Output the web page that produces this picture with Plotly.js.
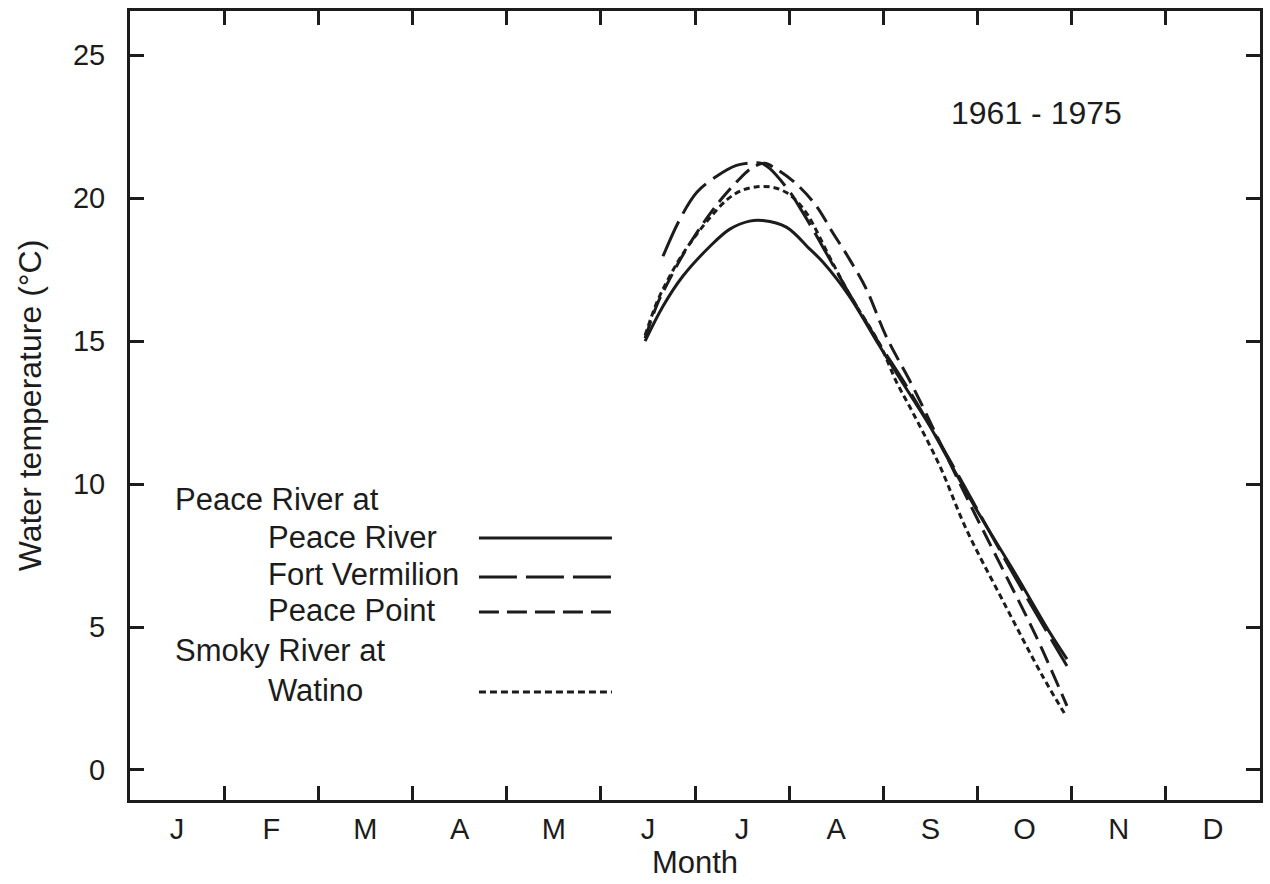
<!DOCTYPE html>
<html>
<head>
<meta charset="utf-8">
<script src="https://cdn.plot.ly/plotly-3.0.1.min.js"></script>
<style>
  html, body { margin: 0; padding: 0; background: #ffffff; }
  #chart { width: 1270px; height: 884px; }
</style>
</head>
<body>
<div id="chart"></div>
<script>
// ---- Data (x = months from 1 January, y = water temperature in °C) ----
const monthLabels = ["J", "F", "M", "A", "M", "J", "J", "A", "S", "O", "N", "D"];
const monthCentres = [0.5, 1.5, 2.5, 3.5, 4.5, 5.5, 6.5, 7.5, 8.5, 9.5, 10.5, 11.5];
const monthBoundaries = [1, 2, 3, 4, 5, 6, 7, 8, 9, 10, 11];
const tempTicks = [0, 5, 10, 15, 20, 25];

const seriesNames = ["Peace River", "Fort Vermilion", "Peace Point", "Watino"];

const peaceRiverX = [5.47, 5.66, 5.87, 6.16, 6.37, 6.58, 6.72, 6.97, 7.22, 7.36, 7.64, 7.96, 8.28, 8.49, 8.73, 8.99, 9.41, 9.76, 9.95];
const peaceRiverY = [15.00, 16.22, 17.27, 18.32, 18.92, 19.20, 19.22, 18.99, 18.22, 17.76, 16.57, 14.83, 13.15, 12.05, 10.62, 9.10, 6.82, 4.85, 3.88];

const fortVermilionX = [5.66, 5.84, 6.02, 6.23, 6.44, 6.61, 6.71, 6.79, 7.01, 7.11, 7.25, 7.43, 7.61, 7.82, 7.96, 8.28, 8.70, 9.41, 9.95];
const fortVermilionY = [17.97, 19.27, 20.21, 20.77, 21.15, 21.24, 21.22, 21.05, 20.21, 19.69, 18.92, 17.87, 16.82, 15.66, 14.90, 13.25, 10.87, 6.68, 3.64];

const peacePointX = [5.47, 5.60, 5.72, 5.86, 6.02, 6.18, 6.30, 6.45, 6.60, 6.74, 6.85, 7.08, 7.29, 7.46, 7.64, 7.82, 8.03, 8.31, 8.60, 8.92, 9.23, 9.62, 9.95];
const peacePointY = [15.10, 16.30, 17.10, 17.95, 18.80, 19.55, 20.05, 20.60, 21.05, 21.22, 21.05, 20.49, 19.72, 18.81, 17.87, 16.82, 15.17, 13.43, 11.47, 9.30, 7.27, 4.69, 2.24];

const watinoX = [5.47, 5.60, 5.72, 5.86, 6.02, 6.18, 6.34, 6.48, 6.66, 6.83, 6.97, 7.08, 7.20, 7.43, 7.64, 7.96, 8.14, 8.31, 8.60, 8.88, 9.26, 9.69, 9.94];
const watinoY = [15.20, 16.40, 17.20, 18.00, 18.75, 19.40, 19.95, 20.25, 20.40, 20.38, 20.20, 19.90, 19.40, 17.94, 16.64, 14.90, 13.57, 12.52, 10.63, 8.43, 5.98, 3.29, 1.89];

const periodText = "1961 - 1975";
const legendHeaders = ["Peace River at", "Smoky River at"];

// ---- Styling ----
const ink = "#1c1c1c";
const fontFamily = "'Liberation Sans', Arial, Helvetica, sans-serif";
const dashes = {
  "Peace River": "solid",
  "Fort Vermilion": "38px,9px",
  "Peace Point": "18px,8px",
  "Watino": "6px,4px"
};
const legendDashes = {
  "Peace River": "solid",
  "Fort Vermilion": "38px,9px",
  "Peace Point": "20px,8px",
  "Watino": "7px,4px"
};

function lineTrace(name, xs, ys) {
  return {
    type: "scatter", mode: "lines", name: name,
    x: xs, y: ys,
    line: { color: ink, width: 3, dash: dashes[name], shape: "spline", smoothing: 1.0 },
    showlegend: false, hoverinfo: "skip"
  };
}

const traces = [
  lineTrace("Peace River", peaceRiverX, peaceRiverY),
  lineTrace("Fort Vermilion", fortVermilionX, fortVermilionY),
  lineTrace("Peace Point", peacePointX, peacePointY),
  lineTrace("Watino", watinoX, watinoY),
  // carrier for the month-label axis
  { type: "scatter", mode: "lines", x: [null], y: [null], xaxis: "x2", yaxis: "y", showlegend: false, hoverinfo: "skip" }
];

// ---- Legend (drawn as text + sample lines, text left of line as in the original) ----
const legendTextX = 0.1204;
const headerX = 0.038;
const legendRowsY = { "Peace River": 0.3321, "Fort Vermilion": 0.2864, "Peace Point": 0.2408, "Watino": 0.1394 };
const legendLineY = { "Peace River": 0.3321, "Fort Vermilion": 0.2826, "Peace Point": 0.2383, "Watino": 0.1369 };
const headerY = [0.381, 0.1890];
const legendFont = { family: fontFamily, size: 31, color: ink };

const annotations = [];
legendHeaders.forEach((h, i) => annotations.push({
  xref: "paper", yref: "paper", x: headerX, y: headerY[i], xanchor: "left", yanchor: "middle",
  text: h, showarrow: false, font: legendFont
}));
seriesNames.forEach(n => annotations.push({
  xref: "paper", yref: "paper", x: legendTextX, y: legendRowsY[n], xanchor: "left", yanchor: "middle",
  text: n, showarrow: false, font: legendFont
}));
annotations.push({
  xref: "paper", yref: "paper", x: 0.8018, y: 0.8707, xanchor: "center", yanchor: "middle",
  text: periodText, showarrow: false, font: { family: fontFamily, size: 32, color: ink }
});

const shapes = seriesNames.map(n => ({
  type: "line", xref: "paper", yref: "paper",
  x0: 0.3088, x1: 0.4265, y0: legendLineY[n], y1: legendLineY[n],
  line: { color: ink, width: 3, dash: legendDashes[n] }
}));

const layout = {
  width: 1270, height: 884,
  margin: { l: 130, r: 10, t: 11, b: 84, pad: 0 },
  paper_bgcolor: "#ffffff", plot_bgcolor: "#ffffff",
  font: { family: fontFamily, color: ink, size: 28 },
  showlegend: false,
  xaxis: {
    range: [0, 12], tickmode: "array", tickvals: monthBoundaries,
    ticks: "inside", ticklen: 14, tickwidth: 3, tickcolor: ink,
    showticklabels: false, showline: true, linewidth: 3, linecolor: ink,
    mirror: "ticks", showgrid: false, zeroline: false, fixedrange: true
  },
  xaxis2: {
    overlaying: "x", anchor: "y", side: "bottom",
    range: [0, 12], tickmode: "array", tickvals: monthCentres, ticktext: monthLabels,
    ticks: "", showline: false, showgrid: false, zeroline: false,
    tickfont: { family: fontFamily, size: 29, color: ink },
    ticklabelstandoff: 9,
    title: { text: "Month", font: { family: fontFamily, size: 31, color: ink }, standoff: 7 }
  },
  yaxis: {
    range: [-1.05, 26.55], tickmode: "array", tickvals: tempTicks,
    ticks: "inside", ticklen: 14, tickwidth: 3, tickcolor: ink,
    showline: true, linewidth: 3, linecolor: ink, mirror: "ticks",
    showgrid: false, zeroline: false,
    tickfont: { family: fontFamily, size: 29, color: ink },
    ticklabelstandoff: 16,
    title: { text: "Water temperature (°C)", font: { family: fontFamily, size: 32, color: ink }, standoff: 22 }
  },
  annotations: annotations,
  shapes: shapes
};

Plotly.newPlot("chart", traces, layout, { staticPlot: true, displayModeBar: false });
</script>
</body>
</html>
